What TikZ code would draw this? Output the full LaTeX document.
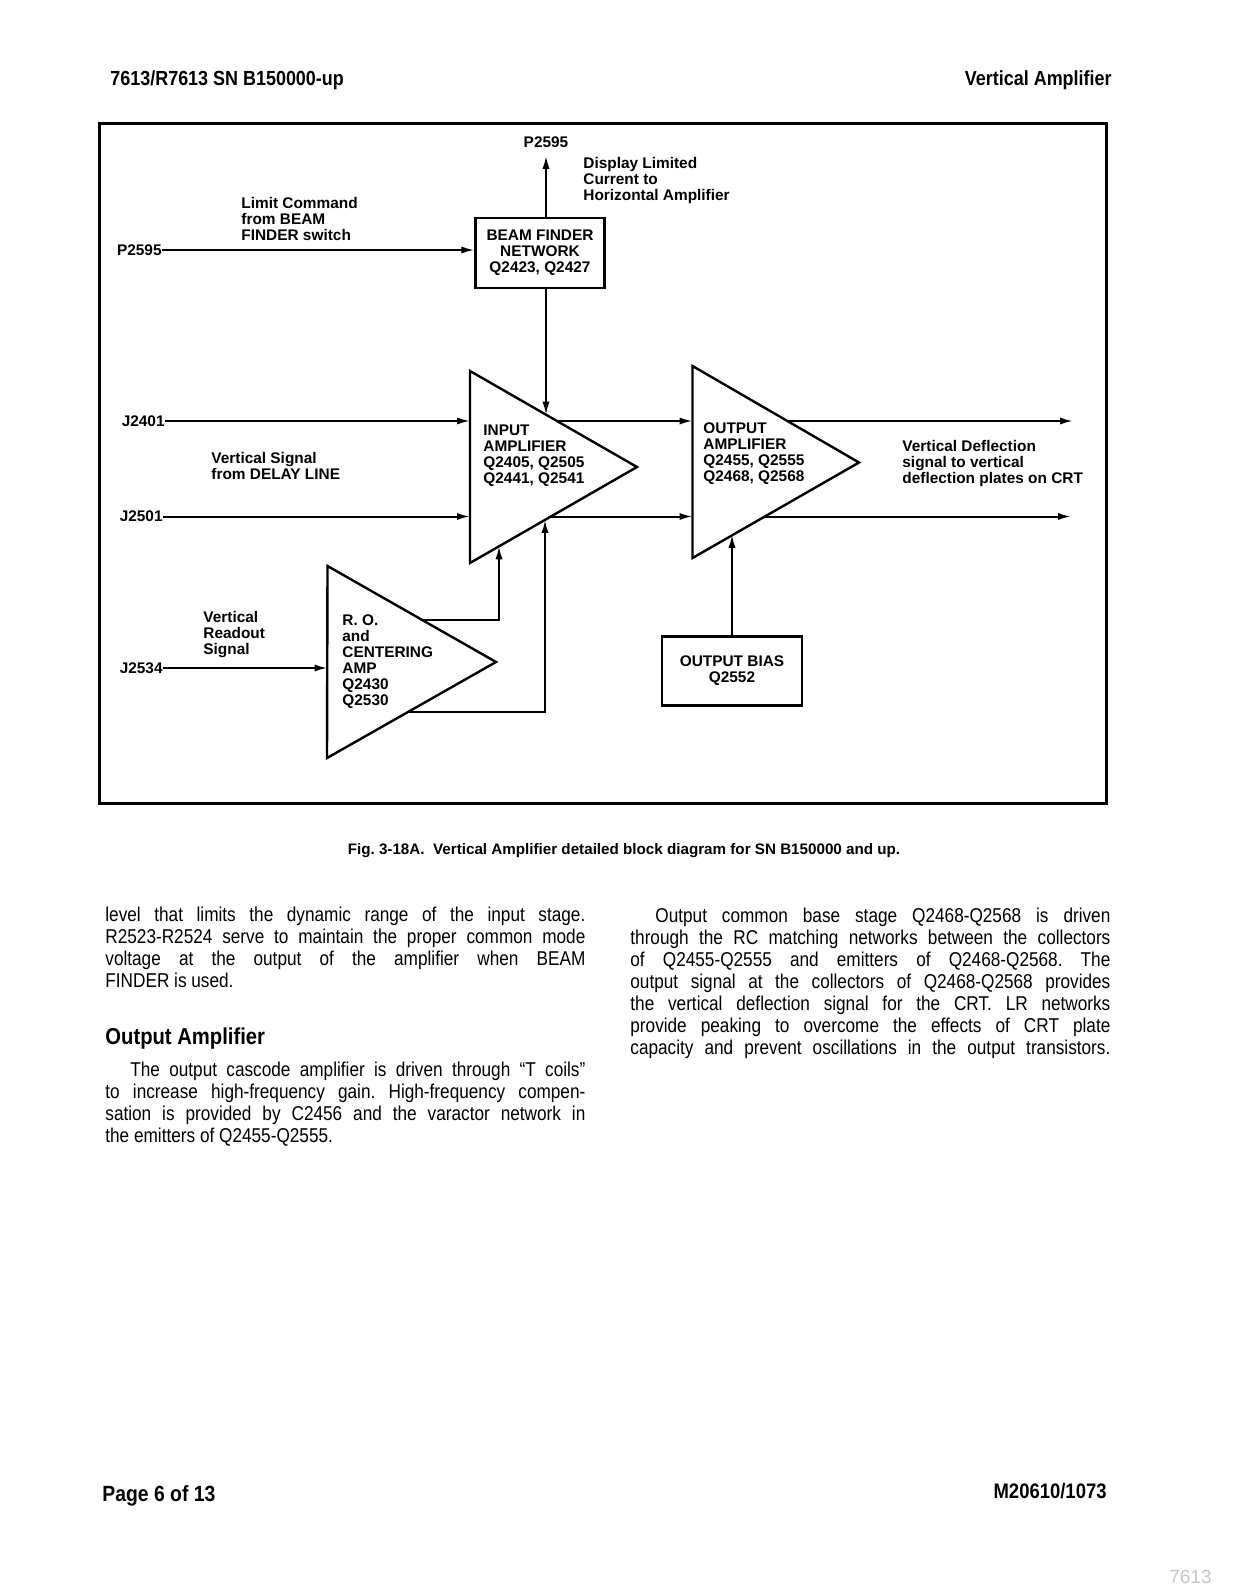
\documentclass[tikz,border=0pt]{standalone}
\usepackage{fontspec}
\setmainfont{Liberation Sans}
\newfontfamily\condfont[FakeStretch=0.88]{Liberation Sans}
\newfontfamily\bodyfont[FakeStretch=0.86]{Liberation Sans}
\usetikzlibrary{arrows.meta, positioning, calc}
\newcommand{\difont}{\bfseries\fontsize{7.7}{8}\selectfont}
\tolerance=9999 \hbadness=10000 \frenchspacing
\tikzset{
	sig/.style={line width=1pt, -{Latex[length=6.5pt,width=3.6pt]}},
	amp/.style={line width=1.2pt, line join=miter},
	blockbox/.style={draw, line width=1.2pt, align=center, inner sep=0pt, font=\difont},
	lbl/.style={align=left, inner sep=0pt, font=\difont},
	bodytext/.style={text width=240pt, align=justify, inner sep=0pt, anchor=base west, font=\bodyfont\fontsize{10}{11}\selectfont},
	pagehead/.style={inner sep=0pt, font=\condfont\bfseries\fontsize{10.2}{12}\selectfont}
}
\begin{document}
\begin{tikzpicture}[x=0.5pt,y=-0.5pt]
	\useasboundingbox (0,0) rectangle (1234,1595);
	\fill[white] (0,0) rectangle (1234,1595);
	\node[pagehead, anchor=base west] (head) at (110,86) {7613/R7613 SN B150000-up};
	\node[pagehead, anchor=base east] (section) at (1112,86) {Vertical Amplifier};
	\draw[line width=1.5pt] (99,124) rectangle (1106,803);
	% amplifier triangles
	\coordinate (ia1) at (470,371); \coordinate (ia2) at (470,563); \coordinate (iatip) at (637,467);
	\coordinate (oa1) at (692.5,366); \coordinate (oa2) at (692.5,558); \coordinate (oatip) at (859,462.5);
	\coordinate (ro1) at (327.5,566); \coordinate (ro2) at (327,758); \coordinate (rotip) at (496,662);
	\draw[amp] (ia1) -- (iatip) -- (ia2) -- cycle;
	\draw[amp] (oa1) -- (oatip) -- (oa2) -- cycle;
	\draw[amp] (ro1) -- (rotip) -- (ro2) -- cycle;
	\coordinate (iaina) at (546,414.7); \coordinate (iainb) at (545,519.9); \coordinate (iarob) at (499,546.3);
	\coordinate (iaouta) at (557,421); \coordinate (iaoutb) at (550.9,516.5);
	\coordinate (oaouta) at (787.4,421); \coordinate (oaoutb) at (764.9,516.5); \coordinate (oabias) at (732,534.8);
	\coordinate (roouta) at (421.4,619.5); \coordinate (rooutb) at (408.9,711.5);
	\coordinate (crta) at (1073,421); \coordinate (crtb) at (1071,516.5);
	\node[blockbox, minimum width=64.5pt, minimum height=35pt] (beam) at (540,253) {BEAM FINDER\\NETWORK\\Q2423, Q2427};
	\node[blockbox, minimum width=70pt, minimum height=34.5pt] (bias) at (732,671) {OUTPUT BIAS\\Q2552};
	\node[lbl, anchor=west] (iatext) at (483,456) {INPUT\\AMPLIFIER\\Q2405, Q2505\\Q2441, Q2541};
	\node[lbl, anchor=west] (oatext) at (703,453.3) {OUTPUT\\AMPLIFIER\\Q2455, Q2555\\Q2468, Q2568};
	\node[lbl, anchor=west] (rotext) at (342,662) {R. O.\\and\\CENTERING\\AMP\\Q2430\\Q2530};
	% connectors and labels
	\node[lbl] (ptop) at (546,142) {P2595};
	\node[lbl, anchor=east] (pleft) at (162,250) {P2595};
	\node[lbl, anchor=east] (j2401) at (165,421) {J2401};
	\node[lbl, anchor=east] (j2501) at (163,516.5) {J2501};
	\node[lbl, anchor=east] (j2534) at (163,668) {J2534};
	\node[lbl, anchor=west] (limit) at (241,218.7) {Limit Command\\from BEAM\\FINDER switch};
	\node[lbl, anchor=west] (disp) at (583,180.5) {Display Limited\\Current to\\Horizontal Amplifier};
	\node[lbl, anchor=west] (vsig) at (211,465.7) {Vertical Signal\\from DELAY LINE};
	\node[lbl, anchor=west] (vro) at (203,635) {Vertical\\Readout\\Signal};
	\node[lbl, anchor=west] (vdef) at (902,464) {Vertical Deflection\\signal to vertical\\deflection plates on CRT};
	\draw[sig, shorten >=4pt] (beam.north -| ptop) -- (ptop.south);
	\draw[sig] (pleft.east) -- (beam.west |- pleft.east);
	\draw[sig] (beam.south -| iaina) -- (iaina);
	\foreach \from/\to in {j2401.east/ia1, j2501.east/ia1, iaouta/oa1, iaoutb/oa1, j2534.east/ro1}
		\draw[sig] (\from) -- (\to |- \from);
	\draw[sig] (oaouta) -- (crta);
	\draw[sig] (oaoutb) -- (crtb);
	\draw[sig] (roouta) -| (iarob);
	\draw[sig] (rooutb) -| (iainb);
	\draw[sig] (bias.north) -- (oabias);
	\node[inner sep=0pt, anchor=base, font=\bfseries\fontsize{7.6}{8}\selectfont] (caption) at (624,854) {Fig. 3-18A.\ \ Vertical Amplifier detailed block diagram for SN B150000 and up.};
	% text columns
	\node[bodytext] (leftcol) at (105,921) {level that limits the dynamic range of the input stage.\linebreak R2523-R2524 serve to maintain the proper common mode\linebreak voltage at the output of the amplifier when BEAM\linebreak FINDER is used.};
	\node[inner sep=0pt, anchor=base west, font=\condfont\bfseries\fontsize{11.5}{13}\selectfont] (outhead) at (105,1044) {Output Amplifier};
	\node[bodytext] (outpara) at (105,1076) {\hspace*{12.5pt}The output cascode amplifier is driven through “T coils”\linebreak to increase high-frequency gain. High-frequency compen-\linebreak sation is provided by C2456 and the varactor network in\linebreak the emitters of Q2455-Q2555.};
	\node[bodytext] (rightcol) at (630,922) {\hspace*{12.5pt}Output common base stage Q2468-Q2568 is driven\linebreak through the RC matching networks between the collectors\linebreak of Q2455-Q2555 and emitters of Q2468-Q2568. The\linebreak output signal at the collectors of Q2468-Q2568 provides\linebreak the vertical deflection signal for the CRT. LR networks\linebreak provide peaking to overcome the effects of CRT plate\linebreak capacity and prevent oscillations in the output transistors.\linebreak};
	\node[pagehead, anchor=base west, font=\condfont\bfseries\fontsize{11}{13}\selectfont] (pageno) at (102,1501) {Page 6 of 13};
	\node[pagehead, anchor=base east, font=\condfont\bfseries\fontsize{10.5}{12}\selectfont] (docno) at (1107,1498) {M20610/1073};
	\node[inner sep=0pt, anchor=base east, text=gray!45, font=\fontsize{9.5}{11}\selectfont] (mark) at (1212,1583) {7613};
\end{tikzpicture}
\end{document}
